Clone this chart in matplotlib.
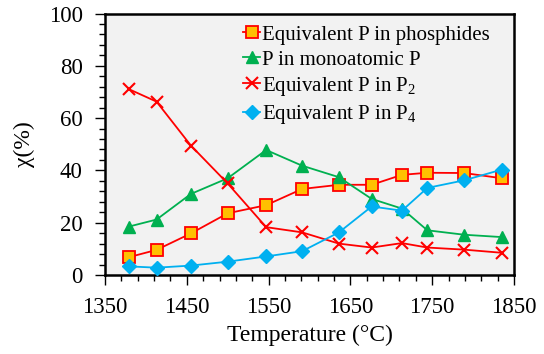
import matplotlib
matplotlib.use("Agg")
import matplotlib.pyplot as plt
import numpy as np
from matplotlib.ticker import MultipleLocator

temps = [1379, 1413, 1455, 1500, 1547, 1591, 1636, 1676, 1713, 1744, 1789, 1835]
phosphides = [6.8, 9.6, 15.9, 23.6, 26.7, 32.9, 34.5, 34.5, 38.3, 39.1, 39.0, 37.0]
mono_p = [18.5, 21.2, 31.0, 37.0, 47.8, 41.8, 37.4, 29.1, 25.4, 17.1, 15.4, 14.5]
p2 = [71.1, 66.3, 49.5, 35.0, 18.3, 16.3, 12.0, 10.5, 12.2, 10.5, 9.7, 8.5]
p4 = [3.3, 2.8, 3.6, 5.1, 7.1, 9.1, 16.3, 26.2, 24.6, 33.3, 36.2, 40.3]

labels = ["Equivalent P in phosphides", "P in monoatomic P",
          r"Equivalent P in P$_2$", r"Equivalent P in P$_4$"]
x_ticks = [1350, 1450, 1550, 1650, 1750, 1850]

plt.rcParams['font.family'] = ['Liberation Serif', 'DejaVu Serif']
plt.rcParams['mathtext.fontset'] = 'custom'
plt.rcParams['mathtext.rm'] = 'Liberation Serif'
plt.rcParams['mathtext.it'] = 'Liberation Serif:italic'

fig = plt.figure(figsize=(5.44, 3.54), dpi=100)
ax = fig.add_axes([105/544, 79/354, 409/544, 261.5/354])
ax.set_facecolor('#F2F2F2')

ax.plot(temps, phosphides, color='#FF0000', lw=1.3, marker='s', ms=8,
        mfc='#FFC000', mec='#FF0000', mew=1.3, label=labels[0], zorder=3)
ax.plot(temps, mono_p, color='#00B050', lw=1.3, marker='^', ms=8,
        mfc='#00B050', mec='#00B050', label=labels[1], zorder=3)
ax.plot(temps, p2, color='#FF0000', lw=1.3, marker='x', ms=8, mew=1.5,
        label=labels[2], zorder=3)
ax.plot(temps, p4, color='#00B0F0', lw=1.3, marker='D', ms=7,
        mfc='#00B0F0', mec='#00B0F0', label=labels[3], zorder=3)

ax.set_xlim(1350, 1850)
ax.set_ylim(0, 100)
ax.set_xticks(x_ticks)
ax.set_xticks(np.arange(1350, 1851, 20), minor=True)
ax.yaxis.set_major_locator(MultipleLocator(20))
ax.yaxis.set_minor_locator(MultipleLocator(4))
ax.tick_params(which='major', direction='out', length=7, width=1, labelsize=16.5)
ax.tick_params(which='minor', direction='out', length=4, width=1)
ax.tick_params(axis='x', which='major', pad=9)
ax.tick_params(axis='y', which='major', pad=9)
for s in ax.spines.values():
    s.set_linewidth(1.8)

ax.set_xlabel('Temperature (°C)', fontsize=17, labelpad=5)
ax.set_ylabel('χ(%)', fontsize=17, labelpad=10)

leg = ax.legend(loc='upper left', bbox_to_anchor=(0.30, 1.015), frameon=False,
                fontsize=15, handlelength=0.8, handletextpad=0.1,
                labelspacing=0.25, borderpad=0.25)

fig.savefig('out.png', dpi=100)
